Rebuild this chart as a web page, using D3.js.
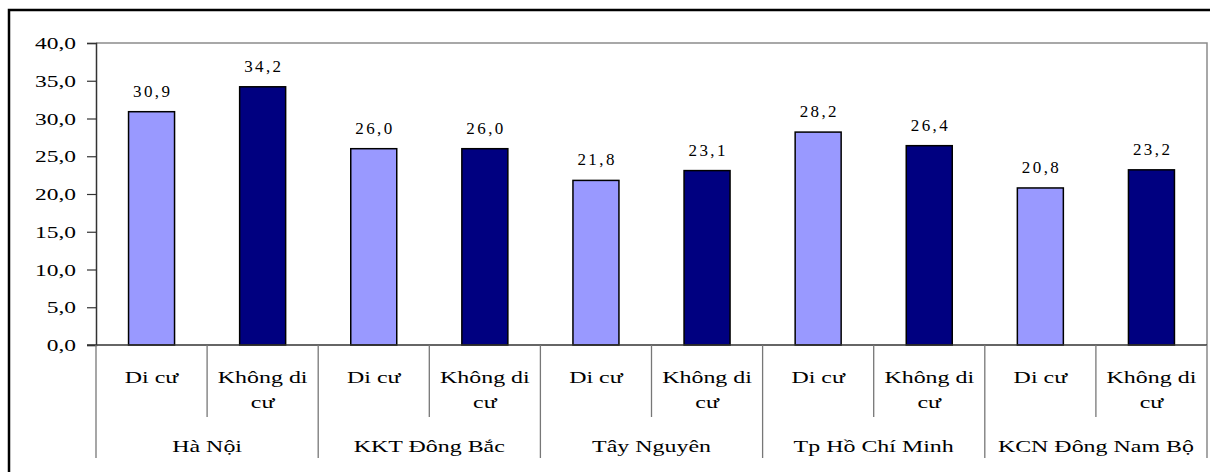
<!DOCTYPE html>
<html>
<head>
<meta charset="utf-8">
<script src="https://cdn.jsdelivr.net/npm/d3@7"></script>
<style>
  html, body { margin: 0; padding: 0; background: #fff; }
  svg { display: block; }
</style>
</head>
<body>
<svg id="chart" width="1210" height="472"></svg>
<script>
// Regions and the two migration statuses within each region
const regions = ["Hà Nội", "KKT Đông Bắc", "Tây Nguyên", "Tp Hồ Chí Minh", "KCN Đông Nam Bộ"];
const statuses = ["Di cư", "Không di cư"];
const migrantValues = [30.9, 26.0, 21.8, 28.2, 20.8];
const nonMigrantValues = [34.2, 26.0, 23.1, 26.4, 23.2];
const yTickValues = [0, 5, 10, 15, 20, 25, 30, 35, 40];
const barColors = ["#9999FF", "#000080"];

const FONT = '"Liberation Serif"';
const WIDE = 1.45;   // horizontal stretch of the label type

// Flatten into one row per bar
const rows = [];
regions.forEach((r, i) => {
  rows.push({ region: r, status: statuses[0], value: migrantValues[i], s: 0, key: r + "|0" });
  rows.push({ region: r, status: statuses[1], value: nonMigrantValues[i], s: 1, key: r + "|1" });
});

const svg = d3.select("#chart");
const plot = { left: 96, right: 1207, top: 43, bottom: 345 };

// Stretched text helper
function label(g, x, y, str, size, anchor, sx) {
  return g.append("text")
    .attr("transform", `translate(${x},${y}) scale(${sx},1)`)
    .attr("text-anchor", anchor)
    .style("font-family", FONT)
    .style("font-size", size + "px")
    .style("fill", "#000")
    .text(str);
}

// Outer chart frame
svg.append("rect")
  .attr("x", 9).attr("y", 10)
  .attr("width", 1250).attr("height", 520)
  .attr("fill", "none").attr("stroke", "#000").attr("stroke-width", 2.5);

const x = d3.scaleBand()
  .domain(rows.map(d => d.key))
  .range([plot.left, plot.right])
  .paddingInner(0.586)
  .paddingOuter(0.293);

const y = d3.scaleLinear().domain([0, 40]).range([plot.bottom, plot.top]);

// Plot area border (top and right)
svg.append("path")
  .attr("d", `M${plot.left},${plot.top}H${plot.right}V${plot.bottom}`)
  .attr("fill", "none").attr("stroke", "#8c8c8c").attr("stroke-width", 1.5);

// Bars
svg.append("g").selectAll("rect")
  .data(rows).join("rect")
  .attr("x", d => x(d.key))
  .attr("y", d => y(d.value))
  .attr("width", x.bandwidth())
  .attr("height", d => y(0) - y(d.value))
  .attr("fill", d => barColors[d.s])
  .attr("stroke", "#000").attr("stroke-width", 1.5);

// Value labels (letter-spaced, centred over each bar)
const fmt = v => d3.format(".1f")(v).replace(".", ",");
const spacing = 2.4;
svg.append("g").selectAll("text")
  .data(rows).join("text")
  .attr("x", d => x(d.key) + x.bandwidth() / 2 + spacing / 2)
  .attr("y", d => y(d.value) - 15)
  .attr("text-anchor", "middle")
  .style("font-family", FONT)
  .style("font-size", "17px")
  .style("letter-spacing", spacing + "px")
  .style("fill", "#000")
  .text(d => fmt(d.value));

// Y axis
const yAxis = d3.axisLeft(y)
  .tickValues(yTickValues)
  .tickSize(9)
  .tickFormat("");
const ya = svg.append("g").attr("transform", `translate(${plot.left},0)`).call(yAxis);
ya.select(".domain").attr("stroke", "#333").attr("stroke-width", 1.5);
ya.selectAll(".tick line").attr("stroke", "#333").attr("stroke-width", 1.2);
ya.selectAll(".tick").each(function (d) {
  label(d3.select(this), -20, 5.5, fmt(d), 16.5, "end", 1.42);
});

// Baseline
svg.append("line")
  .attr("x1", plot.left - 9).attr("x2", plot.right)
  .attr("y1", y(0)).attr("y2", y(0))
  .attr("stroke", "#333").attr("stroke-width", 1.5);

// Category axis separators
const step = x.step();
const sepG = svg.append("g").attr("stroke", "#777").attr("stroke-width", 1.3);
rows.forEach((d, i) => {
  const bx = plot.left + i * step;
  sepG.append("line")
    .attr("x1", bx).attr("x2", bx)
    .attr("y1", plot.bottom).attr("y2", i % 2 === 0 ? 458 : 417);
});
sepG.append("line")
  .attr("x1", plot.right).attr("x2", plot.right)
  .attr("y1", plot.bottom).attr("y2", 458);

// Status labels (wrapped like the category axis)
const lab = svg.append("g");
rows.forEach(d => {
  const cx = x(d.key) + x.bandwidth() / 2;
  if (d.s === 0) {
    label(lab, cx, 383, d.status, 16.5, "middle", WIDE);
  } else {
    label(lab, cx, 383, "Không di", 16.5, "middle", WIDE);
    label(lab, cx, 408, "cư", 16.5, "middle", WIDE);
  }
});

// Region labels
regions.forEach((r, i) => {
  const cx = plot.left + (i * 2 + 1) * step;
  label(lab, cx, 452, r, 16.5, "middle", WIDE);
});
</script>
</body>
</html>
